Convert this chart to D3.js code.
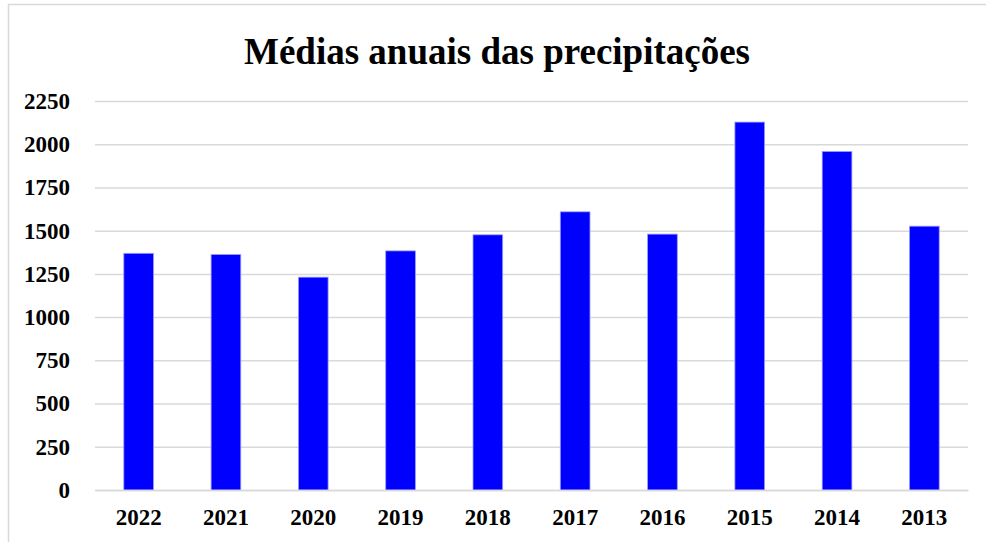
<!DOCTYPE html>
<html>
<head>
<meta charset="utf-8">
<script src="https://cdn.jsdelivr.net/npm/d3@7"></script>
<style>
  body { margin: 0; background: #fff; }
  svg { display: block; }
</style>
</head>
<body>
<div id="chart"></div>
<script>
let years = ["2022", "2021", "2020", "2019", "2018", "2017", "2016", "2015", "2014", "2013"];
let rainfall = [1369, 1362, 1231, 1383, 1476, 1609, 1480, 2128, 1958, 1526];
let yTicks = [0, 250, 500, 750, 1000, 1250, 1500, 1750, 2000, 2250];
let chartTitle = "Médias anuais das precipitações";

var totalW = 986, totalH = 542;
var margin = { top: 101, right: 18, bottom: 52, left: 95 },
    width = totalW - margin.left - margin.right,
    height = totalH - margin.top - margin.bottom;

var svg = d3.select("#chart")
    .append("svg")
    .attr("width", totalW)
    .attr("height", totalH);

// chart area frame (runs off the right and bottom edges)
svg.append("rect")
    .attr("x", 8.5)
    .attr("y", 4.5)
    .attr("width", 990)
    .attr("height", 560)
    .attr("fill", "#fff")
    .attr("stroke", "#d9d9d9")
    .attr("stroke-width", 1.5);

svg.append("text")
    .attr("x", 497)
    .attr("y", 64)
    .attr("text-anchor", "middle")
    .style("font-family", "'Liberation Serif', 'Times New Roman', serif")
    .style("font-weight", "bold")
    .style("font-size", "37px")
    .text(chartTitle);

var g = svg.append("g")
    .attr("transform", "translate(" + margin.left + "," + margin.top + ")");

var x = d3.scaleBand()
    .domain(years)
    .range([0, width])
    .paddingInner(0.66)
    .paddingOuter(0.33);

var y = d3.scaleLinear()
    .domain([0, 2250])
    .range([height, 0]);

// gridlines
g.append("g")
    .call(d3.axisLeft(y).tickValues(yTicks).tickSize(-width).tickFormat(""))
    .call(function (s) { s.select(".domain").remove(); })
    .selectAll("line")
    .attr("stroke", "#d9d9d9")
    .attr("stroke-width", 1.5);

// y labels
var yAxis = g.append("g")
    .attr("transform", "translate(-22,0)")
    .call(d3.axisLeft(y).tickValues(yTicks).tickSize(0).tickFormat(d3.format("d")));
yAxis.select(".domain").remove();
yAxis.selectAll("text")
    .style("font-family", "'Liberation Serif', 'Times New Roman', serif")
    .style("font-weight", "bold")
    .style("font-size", "23px")
    .attr("fill", "#000");

g.selectAll("rect.bar")
    .data(rainfall)
    .enter()
    .append("rect")
    .attr("class", "bar")
    .attr("x", function (d, i) { return x(years[i]); })
    .attr("y", function (d) { return y(d); })
    .attr("width", x.bandwidth())
    .attr("height", function (d) { return height - y(d); })
    .attr("fill", "#0000ff")
    .attr("stroke", "#9a9aff")
    .attr("stroke-width", 0.8);

// x labels
var xAxis = g.append("g")
    .attr("transform", "translate(0," + height + ")")
    .call(d3.axisBottom(x).tickSize(0).tickPadding(19));
xAxis.select(".domain")
    .attr("stroke", "#d9d9d9")
    .attr("stroke-width", 1.5);
xAxis.selectAll("text")
    .style("font-family", "'Liberation Serif', 'Times New Roman', serif")
    .style("font-weight", "bold")
    .style("font-size", "23px")
    .attr("fill", "#000");
</script>
</body>
</html>
